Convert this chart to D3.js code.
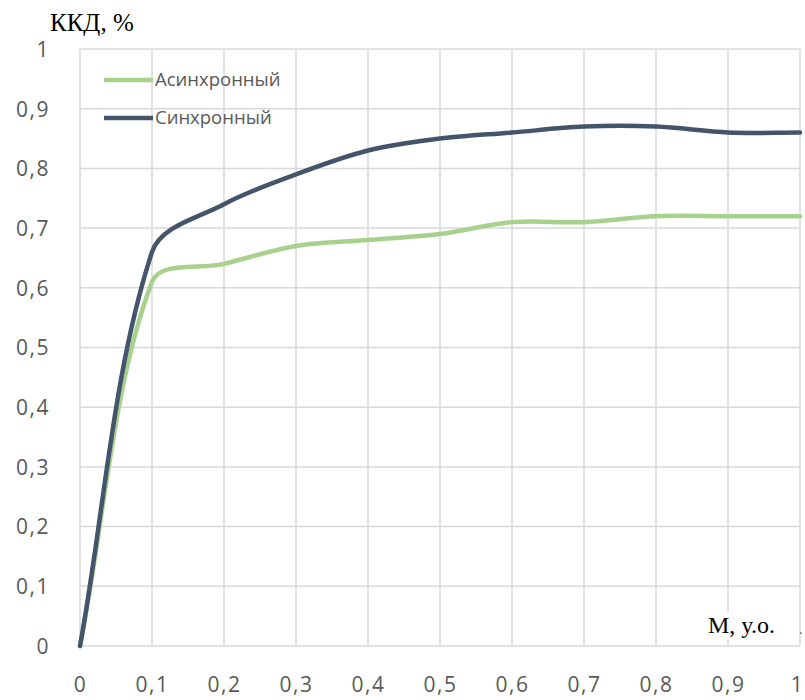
<!DOCTYPE html>
<html>
<head>
<meta charset="utf-8">
<script src="https://cdn.jsdelivr.net/npm/d3@7"></script>
<style>
  html, body { margin: 0; padding: 0; background: #fff; }
  svg { display: block; }
</style>
</head>
<body>
<div id="chart"></div>
<script>
// Load factor (relative units) and efficiency of two motor types
const loadValues = [0, 0.1, 0.2, 0.3, 0.4, 0.5, 0.6, 0.7, 0.8, 0.9, 1];
const asyncEff   = [0, 0.61, 0.64, 0.67, 0.68, 0.69, 0.71, 0.71, 0.72, 0.72, 0.72];
const syncEff    = [0, 0.66, 0.74, 0.79, 0.83, 0.85, 0.86, 0.87, 0.87, 0.86, 0.86];
const seriesNames = ["Асинхронный", "Синхронный"];
const seriesColors = ["#A9D18E", "#44546A"];
const xTicks = [0, 0.1, 0.2, 0.3, 0.4, 0.5, 0.6, 0.7, 0.8, 0.9, 1];
const yTicks = [0, 0.1, 0.2, 0.3, 0.4, 0.5, 0.6, 0.7, 0.8, 0.9, 1];
const yTitle = "ККД, %";
const xTitle = "М, у.о.";

const W = 805, H = 700;
const svg = d3.select("#chart").append("svg").attr("width", W).attr("height", H);

const x = d3.scaleLinear().domain([0, 1]).range([80, 800]);
const y = d3.scaleLinear().domain([0, 1]).range([646, 49]);

const fmt = v => (v === 0 || v === 1) ? String(v) : String(v).replace(".", ",");

// Smoothed line curve: cubic Bezier segments whose tangents follow the
// neighbouring chord and are scaled by the adjacent segment lengths
function smoothCurve(context) {
  let pts = [];
  return {
    areaStart() {}, areaEnd() {},
    lineStart() { pts = []; },
    point(px, py) { pts.push([+px, +py]); },
    lineEnd() {
      const n = pts.length;
      if (!n) return;
      context.moveTo(pts[0][0], pts[0][1]);
      if (n === 1) return;
      const dist = (a, b) => Math.hypot(b[0] - a[0], b[1] - a[1]);
      const ctrl = (i) => {
        const prev = pts[Math.max(0, i - 1)], next = pts[Math.min(n - 1, i + 1)], p = pts[i];
        const dIn = i > 0 ? dist(prev, p) : 0;
        const dOut = i < n - 1 ? dist(p, next) : 0;
        const tot = dIn + dOut || 1;
        const tx = next[0] - prev[0], ty = next[1] - prev[1];
        return {
          before: [p[0] - tx * dIn / tot / 3, p[1] - ty * dIn / tot / 3],
          after:  [p[0] + tx * dOut / tot / 3, p[1] + ty * dOut / tot / 3]
        };
      };
      const c = pts.map((_, i) => ctrl(i));
      for (let i = 0; i < n - 1; i++) {
        const a = c[i].after, b = c[i + 1].before, e = pts[i + 1];
        context.bezierCurveTo(a[0], a[1], b[0], b[1], e[0], e[1]);
      }
    }
  };
}

// grid
const grid = svg.append("g").attr("stroke", "#D9D9D9").attr("stroke-width", 1.5);
grid.selectAll("line.v").data(xTicks).join("line").attr("class", "v")
  .attr("x1", d => x(d)).attr("x2", d => x(d)).attr("y1", y(0)).attr("y2", y(1));
grid.selectAll("line.h").data(yTicks).join("line").attr("class", "h")
  .attr("x1", x(0)).attr("x2", x(1)).attr("y1", d => y(d)).attr("y2", d => y(d));

// y tick labels
const yAxis = d3.axisLeft(y).tickValues(yTicks).tickFormat(fmt).tickSize(0).tickPadding(30);
const gy = svg.append("g").attr("transform", "translate(" + x(0) + ",0)").call(yAxis);
gy.select(".domain").remove();
gy.selectAll("text").attr("fill", "#595959").attr("font-family", "'Open Sans', sans-serif")
  .attr("font-size", 21).attr("letter-spacing", 1.5).attr("dy", "0.35em");

// x tick labels
const xAxis = d3.axisBottom(x).tickValues(xTicks).tickFormat(fmt).tickSize(0).tickPadding(31);
const gx = svg.append("g").attr("transform", "translate(0," + y(0) + ")").call(xAxis);
gx.select(".domain").remove();
gx.selectAll("text").attr("fill", "#595959").attr("font-family", "'Open Sans', sans-serif")
  .attr("font-size", 21).attr("letter-spacing", 1.5).attr("dy", "0.71em");
// last label sits on the right edge of the page
gx.selectAll(".tick").filter(d => d === 1).select("text").attr("x", -3);

// curves
const line = d3.line().x(d => x(d[0])).y(d => y(d[1])).curve(smoothCurve);
const series = [asyncEff, syncEff];
svg.append("g").selectAll("path").data(series).join("path")
  .attr("d", vals => line(vals.map((v, i) => [loadValues[i], v])))
  .attr("fill", "none")
  .attr("stroke", (d, i) => seriesColors[i])
  .attr("stroke-width", 4.5)
  .attr("stroke-linejoin", "round")
  .attr("stroke-linecap", "round");

// legend
const legend = svg.append("g");
seriesNames.forEach((name, i) => {
  const ly = 80 + i * 38;
  legend.append("line").attr("x1", 104).attr("x2", 153).attr("y1", ly).attr("y2", ly)
    .attr("stroke", seriesColors[i]).attr("stroke-width", 4.5);
  legend.append("text").attr("x", 155).attr("y", ly).attr("dy", "0.35em")
    .attr("fill", "#595959").attr("font-family", "'Open Sans', sans-serif")
    .attr("font-size", 18.5).text(name);
});

// axis titles
svg.append("text").attr("x", 50).attr("y", 31)
  .attr("font-family", "'Liberation Serif', 'Times New Roman', serif")
  .attr("font-size", 25).attr("fill", "#000").text(yTitle);

svg.append("rect").attr("x", 702).attr("y", 612).attr("width", 97).attr("height", 28).attr("fill", "#fff");
svg.append("text").attr("x", 708).attr("y", 633)
  .attr("font-family", "'Liberation Serif', 'Times New Roman', serif")
  .attr("font-size", 24).attr("fill", "#000").text(xTitle);
svg.append("text").attr("x", 799).attr("y", 634)
  .attr("font-family", "'Liberation Serif', serif").attr("font-size", 14).attr("fill", "#555").text(".");
</script>
</body>
</html>
